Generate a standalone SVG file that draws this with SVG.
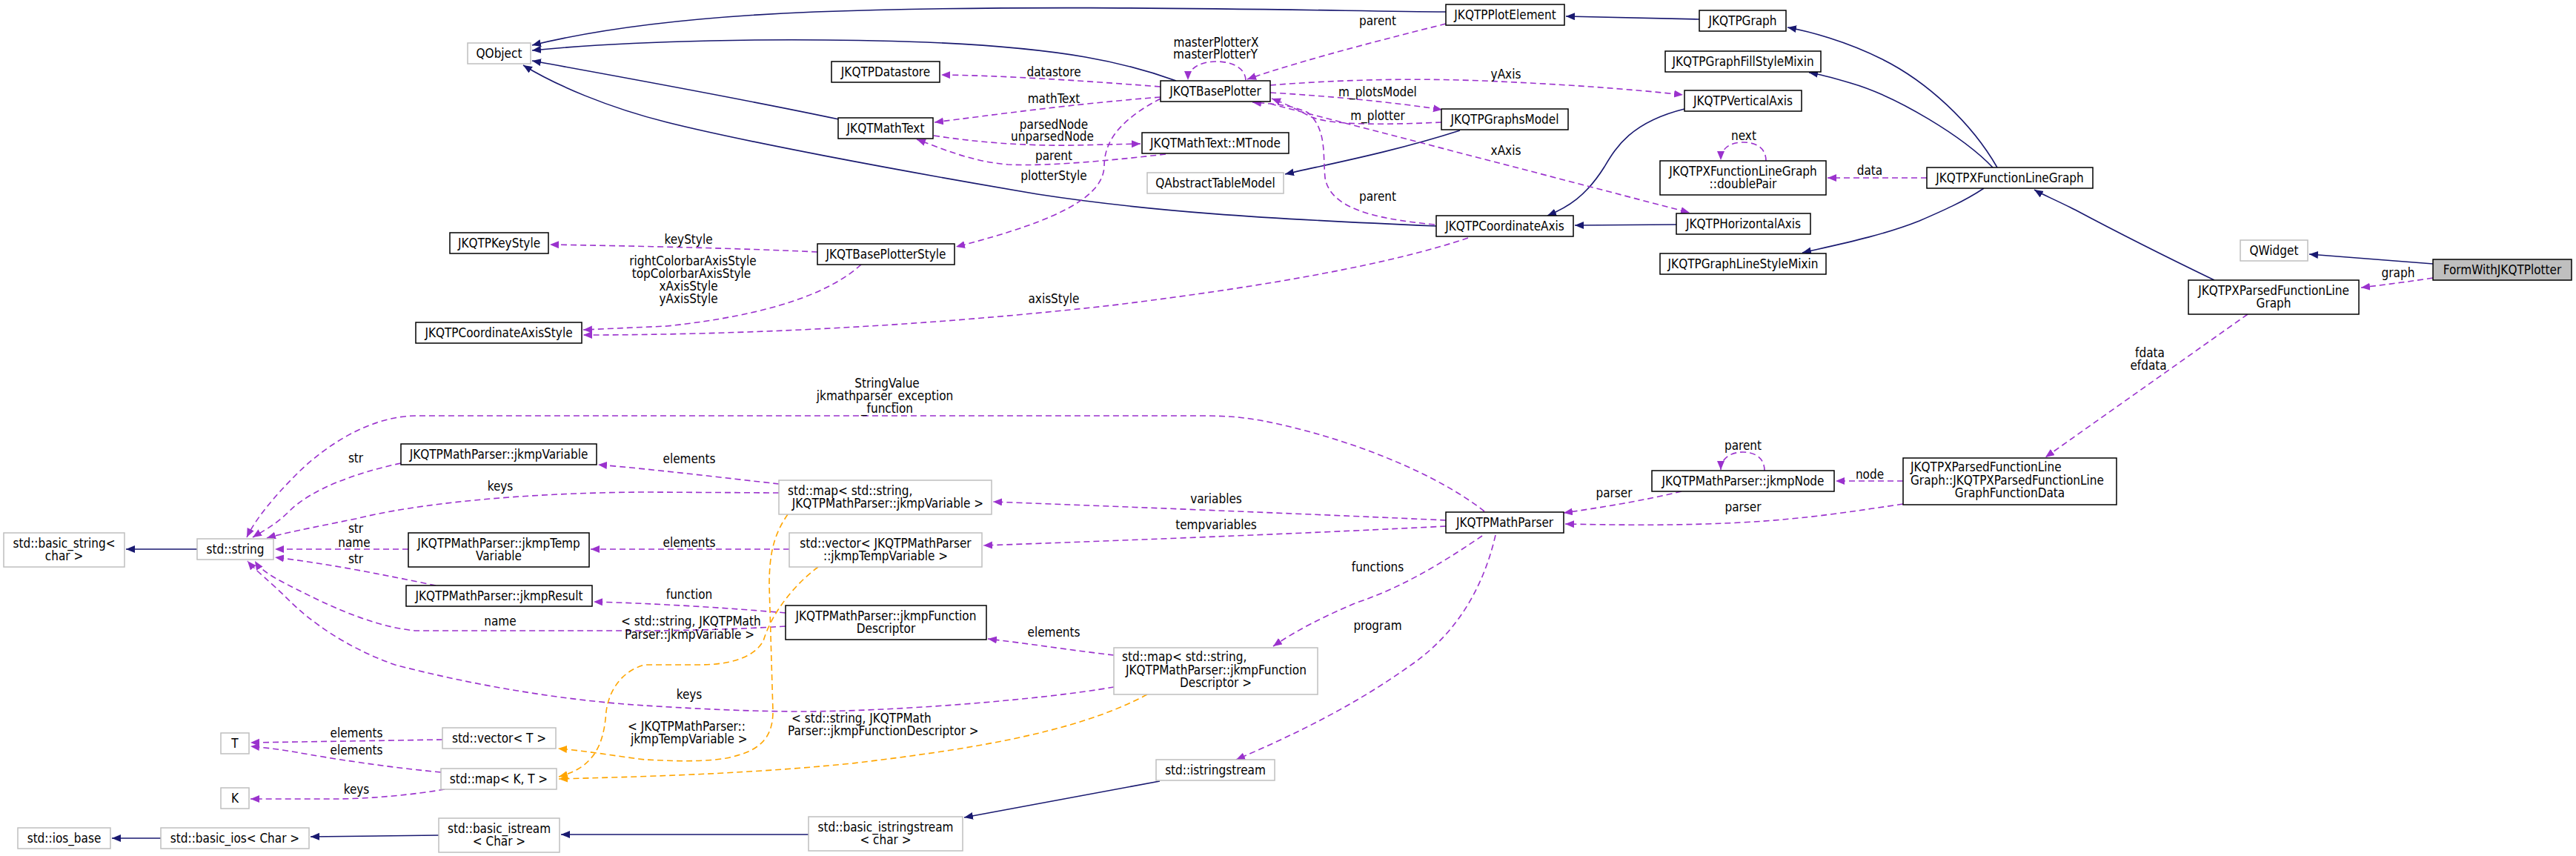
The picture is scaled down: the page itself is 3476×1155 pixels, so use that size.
<svg xmlns="http://www.w3.org/2000/svg" width="3476" height="1155" viewBox="0 0 3476 1155">
<style>
text{font-family:'DejaVu Sans Condensed','DejaVu Sans',sans-serif;font-stretch:condensed;font-size:17px;fill:#000}
.n rect{fill:#fff;stroke:#000;stroke-width:1.5}
.x rect{fill:#fff;stroke:#bfbfbf;stroke-width:1.5}
.g rect{fill:#bfbfbf;stroke:#000;stroke-width:1.5}
.n text,.x text,.g text{text-anchor:middle}
.inh{fill:none;stroke:#191970;stroke-width:1.6;marker-end:url(#aN)}
.use{fill:none;stroke:#9a32cd;stroke-width:1.6;stroke-dasharray:8 5;marker-end:url(#aP)}
.tpl{fill:none;stroke:#ffa500;stroke-width:1.6;stroke-dasharray:8 5;marker-end:url(#aO)}
.lm{text-anchor:middle}
.ls{text-anchor:start}
</style>
<defs>
<marker id="aN" markerUnits="userSpaceOnUse" markerWidth="14" markerHeight="12" refX="12" refY="5" orient="auto"><path d="M0,0 L12,5 L0,10 Z" fill="#191970"/></marker>
<marker id="aP" markerUnits="userSpaceOnUse" markerWidth="14" markerHeight="12" refX="12" refY="5" orient="auto"><path d="M0,0 L12,5 L0,10 Z" fill="#9a32cd"/></marker>
<marker id="aO" markerUnits="userSpaceOnUse" markerWidth="14" markerHeight="12" refX="12" refY="5" orient="auto"><path d="M0,0 L12,5 L0,10 Z" fill="#ffa500"/></marker>
</defs>
<rect width="3476" height="1155" fill="#fff"/>
<g id="connectors">
<!-- inheritance -->
<path class="inh" d="M1951,16 C1750,14 1400,5 1100,16 C950,22 820,36 718,61"/>
<path class="inh" d="M1587,109 C1520,85 1440,65 1250,57 C1050,50 850,55 718,68"/>
<path class="inh" d="M1132,161 C1000,133 850,106 718,82"/>
<path class="inh" d="M1938,305 C1700,295 1550,285 1400,262 C1200,228 1000,190 900,165 C820,145 750,115 706,88"/>
<path class="inh" d="M2293,26 L2113,22"/>
<path class="inh" d="M1970,176 C1880,205 1790,222 1734,235"/>
<path class="inh" d="M2273,147 C2200,165 2180,200 2165,225 C2140,265 2115,280 2088,291"/>
<path class="inh" d="M2262,303 L2125,304"/>
<path class="inh" d="M2695,226 C2660,165 2600,110 2540,80 C2490,55 2440,42 2412,37"/>
<path class="inh" d="M2689,226 C2650,185 2560,130 2497,112 C2470,104 2455,100 2441,98"/>
<path class="inh" d="M2677,254 C2650,272 2620,285 2590,298 C2540,318 2480,330 2432,341"/>
<path class="inh" d="M2988,378 C2930,350 2860,315 2800,283 C2770,268 2755,262 2745,256"/>
<path class="inh" d="M3283,356 L3116,343"/>
<path class="inh" d="M266,741 L170,741"/>
<path class="inh" d="M1565,1054 L1301,1103"/>
<path class="inh" d="M1091,1126 L757,1126"/>
<path class="inh" d="M592,1127 L419,1129"/>
<path class="inh" d="M217,1131 L151,1131"/>
<!-- usage -->
<path class="use" d="M1566,117 C1450,108 1350,102 1270,101"/>
<text class="lm" x="1422" y="103">datastore</text>
<path class="use" d="M1566,131 C1450,140 1340,155 1261,165"/>
<text class="lm" x="1422" y="139">mathText</text>
<path class="use" d="M1260,183 C1320,192 1380,197 1450,196 L1539,194"/>
<text class="lm" x="1422" y="174">parsedNode</text>
<text class="lm" x="1420" y="190">unparsedNode</text>
<path class="use" d="M1573,208 C1520,214 1420,225 1360,222 C1310,218 1270,200 1237,188"/>
<text class="lm" x="1422" y="216">parent</text>
<path class="use" d="M1566,133 C1505,165 1490,195 1490,225 C1488,262 1440,295 1290,333"/>
<text class="lm" x="1422" y="243">plotterStyle</text>
<path class="use" d="M1681,108 C1680,90 1660,83 1641,83 C1620,83 1603,92 1603,108"/>
<text class="lm" x="1641" y="63">masterPlotterX</text>
<text class="lm" x="1640" y="79">masterPlotterY</text>
<path class="use" d="M1951,32 C1880,50 1760,80 1683,107"/>
<text class="lm" x="1859" y="34">parent</text>
<path class="use" d="M1714,115 C1800,108 1900,105 2000,109 C2100,113 2200,120 2271,128"/>
<text class="lm" x="2032" y="106">yAxis</text>
<path class="use" d="M1714,125 C1800,130 1880,138 1946,148"/>
<text class="lm" x="1859" y="130">m_plotsModel</text>
<path class="use" d="M1945,165 C1880,168 1800,170 1770,158 C1750,148 1735,140 1716,133"/>
<text class="lm" x="1859" y="162">m_plotter</text>
<path class="use" d="M1714,140 C1900,188 2100,240 2280,287"/>
<text class="lm" x="2032" y="209">xAxis</text>
<path class="use" d="M1936,303 C1850,295 1795,280 1788,240 C1785,205 1790,175 1765,152 C1740,140 1710,140 1690,138"/>
<text class="lm" x="1859" y="271">parent</text>
<path class="use" d="M1103,340 C1000,335 860,332 742,330"/>
<text class="lm" x="929" y="329">keyStyle</text>
<path class="use" d="M1162,357 C1120,395 1040,425 900,440 L787,445"/>
<text class="lm" x="935" y="358">rightColorbarAxisStyle</text>
<text class="lm" x="933" y="375">topColorbarAxisStyle</text>
<text class="lm" x="929" y="392">xAxisStyle</text>
<text class="lm" x="929" y="409">yAxisStyle</text>
<path class="use" d="M1981,321 C1880,355 1720,385 1500,412 C1250,440 1000,452 787,452"/>
<text class="lm" x="1422" y="409">axisStyle</text>
<path class="use" d="M2600,240 L2466,240"/>
<text class="lm" x="2523" y="236">data</text>
<path class="use" d="M2383,217 C2383,200 2370,192 2352,192 C2335,192 2322,200 2322,216"/>
<text class="lm" x="2353" y="189">next</text>
<path class="use" d="M3283,375 C3250,380 3220,384 3186,388"/>
<text class="lm" x="3236" y="374">graph</text>
<path class="use" d="M3033,424 L2760,617"/>
<text class="lm" x="2901" y="482">fdata</text>
<text class="lm" x="2899" y="499">efdata</text>
<path class="use" d="M2568,649 L2477,649"/>
<text class="lm" x="2523" y="646">node</text>
<path class="use" d="M2381,635 C2381,618 2368,610 2352,610 C2336,610 2322,618 2322,634"/>
<text class="lm" x="2352" y="607">parent</text>
<path class="use" d="M2269,663 C2220,675 2160,685 2110,692"/>
<text class="lm" x="2178" y="671">parser</text>
<path class="use" d="M2568,680 C2500,690 2440,700 2350,705 C2250,710 2170,708 2112,707"/>
<text class="lm" x="2352" y="690">parser</text>
<path class="use" d="M2003,690 C1940,640 1820,590 1700,567 C1670,562 1650,561 1620,561 L560,561 C500,562 440,600 400,640 C370,670 345,700 333,725"/>
<text class="lm" x="1197" y="523">StringValue</text>
<text class="lm" x="1194" y="540">jkmathparser_exception</text>
<text class="lm" x="1197" y="557">_function</text>
<path class="use" d="M1951,702 C1800,695 1550,685 1340,677"/>
<text class="lm" x="1641" y="679">variables</text>
<path class="use" d="M1951,710 C1800,718 1550,728 1327,736"/>
<text class="lm" x="1641" y="714">tempvariables</text>
<path class="use" d="M2000,723 C1960,750 1900,790 1831,813 C1790,830 1750,850 1718,872"/>
<text class="lm" x="1859" y="771">functions</text>
<path class="use" d="M2018,722 C2000,800 1960,860 1900,900 C1830,950 1750,990 1668,1025"/>
<text class="lm" x="1859" y="850">program</text>
<path class="use" d="M541,625 C480,638 420,660 390,690 C370,710 352,718 341,725"/>
<text class="lm" x="480" y="624">str</text>
<path class="use" d="M1051,653 C980,645 880,633 807,627"/>
<text class="lm" x="930" y="625">elements</text>
<path class="use" d="M1051,665 L870,664 C700,665 560,680 480,700 C420,712 380,720 360,726"/>
<text class="lm" x="675" y="662">keys</text>
<path class="use" d="M551,741 L371,741"/>
<text class="lm" x="480" y="719">str</text>
<text class="lm" x="478" y="738">name</text>
<path class="use" d="M1065,741 L797,741"/>
<text class="lm" x="930" y="738">elements</text>
<path class="use" d="M588,790 C520,776 440,760 371,752"/>
<text class="lm" x="480" y="760">str</text>
<path class="use" d="M1060,827 C980,820 880,814 801,812"/>
<text class="lm" x="930" y="808">function</text>
<path class="use" d="M1060,845 C980,850 900,851 870,851 L560,851 C500,845 440,815 400,795 C370,780 352,770 344,757"/>
<text class="lm" x="675" y="844">name</text>
<path class="use" d="M1503,884 C1450,878 1400,870 1333,862"/>
<text class="lm" x="1422" y="859">elements</text>
<path class="use" d="M1503,927 C1400,945 1200,960 1082,960 C1000,960 920,955 870,952 C760,945 640,925 533,897 C470,875 420,840 390,810 C365,785 345,770 334,757"/>
<text class="lm" x="930" y="943">keys</text>
<path class="use" d="M597,998 L338,1002"/>
<text class="lm" x="481" y="995">elements</text>
<path class="use" d="M595,1042 C520,1035 444,1023 400,1015 C370,1010 350,1008 338,1007"/>
<text class="lm" x="481" y="1018">elements</text>
<path class="use" d="M600,1065 C560,1072 500,1078 450,1078 L338,1078"/>
<text class="lm" x="481" y="1071">keys</text>
<!-- template instances -->
<path class="tpl" d="M1063,694 C1045,720 1038,745 1038,790 L1043,960 C1043,1000 1020,1015 980,1023 C940,1030 880,1025 870,1025 C830,1020 790,1013 753,1010"/>
<path class="tpl" d="M1104,765 C1070,790 1040,830 1030,865 C1015,890 980,897 943,897 L870,897 C840,905 822,930 818,960 C815,1000 805,1035 754,1048"/>
<path class="tpl" d="M1548,937 C1450,990 1300,1012 1150,1030 C1000,1045 860,1048 754,1051"/>
<text class="ls" x="838" y="844">&lt; std::string, JKQTPMath</text>
<text class="ls" x="843" y="862">Parser::jkmpVariable &gt;</text>
<text class="ls" x="847" y="986">&lt; JKQTPMathParser::</text>
<text class="ls" x="851" y="1003">jkmpTempVariable &gt;</text>
<text class="ls" x="1068" y="975">&lt; std::string, JKQTPMath</text>
<text class="ls" x="1063" y="992">Parser::jkmpFunctionDescriptor &gt;</text>
</g>
<g id="nodes">
<g id="QObject" class="x"><rect x="631" y="58" width="85" height="28"/><text x="673.5" y="78">QObject</text></g>
<g id="JKQTPKeyStyle" class="n"><rect x="607" y="314" width="133" height="28"/><text x="673.5" y="334">JKQTPKeyStyle</text></g>
<g id="JKQTPDatastore" class="n"><rect x="1122" y="83" width="146" height="28"/><text x="1195" y="103">JKQTPDatastore</text></g>
<g id="JKQTBasePlotter" class="n"><rect x="1566" y="109" width="148" height="28"/><text x="1640" y="129">JKQTBasePlotter</text></g>
<g id="JKQTMathText" class="n"><rect x="1131" y="159" width="128" height="28"/><text x="1195" y="179">JKQTMathText</text></g>
<g id="MTnode" class="n"><rect x="1541" y="179" width="198" height="28"/><text x="1640" y="199">JKQTMathText::MTnode</text></g>
<g id="QAbstractTableModel" class="x"><rect x="1548" y="233" width="184" height="28"/><text x="1640" y="253">QAbstractTableModel</text></g>
<g id="JKQTBasePlotterStyle" class="n"><rect x="1103" y="329" width="185" height="28"/><text x="1195.5" y="349">JKQTBasePlotterStyle</text></g>
<g id="JKQTPPlotElement" class="n"><rect x="1951" y="6" width="160" height="28"/><text x="2031" y="26">JKQTPPlotElement</text></g>
<g id="JKQTPGraph" class="n"><rect x="2293" y="14" width="117" height="28"/><text x="2351.5" y="34">JKQTPGraph</text></g>
<g id="JKQTPGraphFillStyleMixin" class="n"><rect x="2247" y="69" width="210" height="28"/><text x="2352" y="89">JKQTPGraphFillStyleMixin</text></g>
<g id="JKQTPVerticalAxis" class="n"><rect x="2273" y="122" width="158" height="28"/><text x="2352" y="142">JKQTPVerticalAxis</text></g>
<g id="JKQTPGraphsModel" class="n"><rect x="1945" y="147" width="171" height="28"/><text x="2030.5" y="167">JKQTPGraphsModel</text></g>
<g id="doublePair" class="n"><rect x="2240" y="217" width="224" height="46"/><text x="2352" y="237">JKQTPXFunctionLineGraph</text><text x="2352" y="254">::doublePair</text></g>
<g id="JKQTPCoordinateAxis" class="n"><rect x="1938" y="291" width="185" height="28"/><text x="2030.5" y="311">JKQTPCoordinateAxis</text></g>
<g id="JKQTPHorizontalAxis" class="n"><rect x="2262" y="288" width="181" height="28"/><text x="2352.5" y="308">JKQTPHorizontalAxis</text></g>
<g id="JKQTPGraphLineStyleMixin" class="n"><rect x="2240" y="342" width="224" height="28"/><text x="2352" y="362">JKQTPGraphLineStyleMixin</text></g>
<g id="JKQTPXFunctionLineGraph" class="n"><rect x="2600" y="226" width="224" height="28"/><text x="2712" y="246">JKQTPXFunctionLineGraph</text></g>
<g id="QWidget" class="x"><rect x="3023" y="324" width="91" height="28"/><text x="3068.5" y="344">QWidget</text></g>
<g id="FormWithJKQTPlotter" class="g"><rect x="3283" y="350" width="187" height="28"/><text x="3376.5" y="370">FormWithJKQTPlotter</text></g>
<g id="JKQTPXParsedFunctionLineGraph" class="n"><rect x="2953" y="378" width="230" height="46"/><text x="3068" y="398">JKQTPXParsedFunctionLine</text><text x="3068" y="415">Graph</text></g>
<g id="GraphFunctionData" class="n"><rect x="2568" y="618" width="288" height="63"/><text x="2578" y="636" style="text-anchor:start">JKQTPXParsedFunctionLine</text><text x="2578" y="654" style="text-anchor:start">Graph::JKQTPXParsedFunctionLine</text><text x="2712" y="671">GraphFunctionData</text></g>
<g id="JKQTPMathParser" class="n"><rect x="1951" y="691" width="159" height="28"/><text x="2030.5" y="711">JKQTPMathParser</text></g>
<g id="jkmpNode" class="n"><rect x="2229" y="635" width="246" height="28"/><text x="2352" y="655">JKQTPMathParser::jkmpNode</text></g>
<g id="JKQTPCoordinateAxisStyle" class="n"><rect x="561" y="435" width="224" height="28"/><text x="673" y="455">JKQTPCoordinateAxisStyle</text></g>
<g id="jkmpVariable" class="n"><rect x="541" y="599" width="264" height="28"/><text x="673" y="619">JKQTPMathParser::jkmpVariable</text></g>
<g id="basic_string" class="x"><rect x="5" y="719" width="163" height="46"/><text x="86.5" y="739">std::basic_string&lt;</text><text x="86.5" y="756">char &gt;</text></g>
<g id="std_string" class="x"><rect x="266" y="727" width="103" height="28"/><text x="317.5" y="747">std::string</text></g>
<g id="jkmpTempVariable" class="n"><rect x="551" y="719" width="244" height="46"/><text x="673" y="739">JKQTPMathParser::jkmpTemp</text><text x="673" y="756">Variable</text></g>
<g id="map_jkmpVariable" class="x"><rect x="1051" y="648" width="287" height="46"/><text x="1063" y="668" style="text-anchor:start">std::map&lt; std::string,</text><text x="1198" y="685">JKQTPMathParser::jkmpVariable &gt;</text></g>
<g id="vector_jkmpTempVariable" class="x"><rect x="1065" y="719" width="260" height="46"/><text x="1195" y="739">std::vector&lt; JKQTPMathParser</text><text x="1195" y="756">::jkmpTempVariable &gt;</text></g>
<g id="jkmpResult" class="n"><rect x="548" y="790" width="251" height="28"/><text x="673.5" y="810">JKQTPMathParser::jkmpResult</text></g>
<g id="T" class="x"><rect x="298" y="989" width="38" height="28"/><text x="317" y="1009">T</text></g>
<g id="K" class="x"><rect x="298" y="1063" width="38" height="28"/><text x="317" y="1083">K</text></g>
<g id="vector_T" class="x"><rect x="597" y="982" width="153" height="28"/><text x="673.5" y="1002">std::vector&lt; T &gt;</text></g>
<g id="map_K_T" class="x"><rect x="595" y="1037" width="156" height="28"/><text x="673" y="1057">std::map&lt; K, T &gt;</text></g>
<g id="ios_base" class="x"><rect x="24" y="1117" width="125" height="28"/><text x="86.5" y="1137">std::ios_base</text></g>
<g id="basic_ios" class="x"><rect x="217" y="1117" width="200" height="28"/><text x="317" y="1137">std::basic_ios&lt; Char &gt;</text></g>
<g id="basic_istream" class="x"><rect x="592" y="1104" width="163" height="46"/><text x="673.5" y="1124">std::basic_istream</text><text x="673.5" y="1141">&lt; Char &gt;</text></g>
<g id="jkmpFunctionDescriptor" class="n"><rect x="1060" y="817" width="271" height="46"/><text x="1195.5" y="837">JKQTPMathParser::jkmpFunction</text><text x="1195.5" y="854">Descriptor</text></g>
<g id="map_jkmpFunctionDescriptor" class="x"><rect x="1503" y="874" width="275" height="63"/><text x="1514" y="892" style="text-anchor:start">std::map&lt; std::string,</text><text x="1519" y="910" style="text-anchor:start">JKQTPMathParser::jkmpFunction</text><text x="1640.5" y="927">Descriptor &gt;</text></g>
<g id="istringstream" class="x"><rect x="1560" y="1025" width="160" height="28"/><text x="1640" y="1045">std::istringstream</text></g>
<g id="basic_istringstream" class="x"><rect x="1091" y="1102" width="208" height="46"/><text x="1195" y="1122">std::basic_istringstream</text><text x="1195" y="1139">&lt; char &gt;</text></g>
</g>
</svg>
